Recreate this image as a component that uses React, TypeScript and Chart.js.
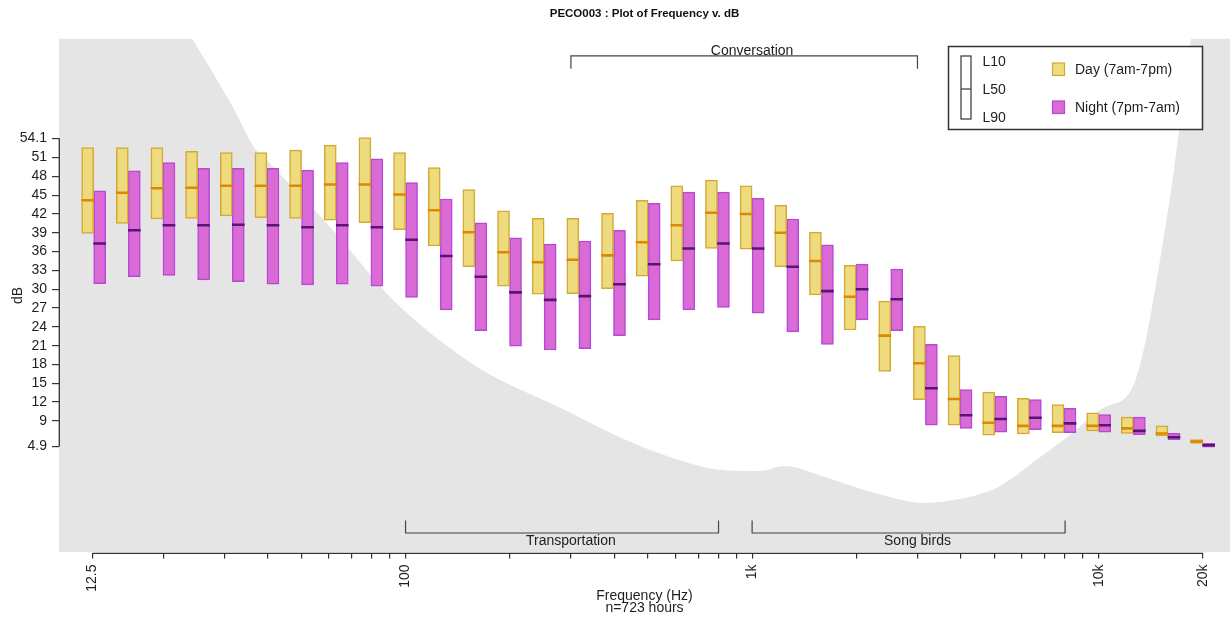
import React, { useEffect, useRef } from 'react';
import { Chart, registerables } from 'chart.js';

Chart.register(...registerables);

// ---------- data ----------
const bands = [12.5, 16, 20, 25, 31.5, 40, 50, 63, 80, 100, 125, 160, 200, 250, 315, 400, 500, 630, 800,
  1000, 1250, 1600, 2000, 2500, 3150, 4000, 5000, 6300, 8000, 10000, 12500, 16000, 20000];

const dayL10 = [52.6, 52.6, 52.6, 52.0, 51.8, 51.8, 52.2, 53.0, 54.2, 51.8, 49.4, 45.9, 42.5, 41.3, 41.3, 42.1, 44.2, 46.5, 47.4,
  46.5, 43.4, 39.1, 33.8, 28.1, 24.1, 19.4, 13.6, 12.6, 11.6, 10.3, 9.6, 8.2, 6.0];
const dayL50 = [44.2, 45.4, 46.1, 46.2, 46.5, 46.5, 46.5, 46.7, 46.7, 45.1, 42.6, 39.1, 35.9, 34.3, 34.7, 35.4, 37.5, 40.2, 42.2,
  42.0, 39.0, 34.5, 28.8, 22.6, 18.2, 12.5, 8.7, 8.2, 8.2, 8.2, 7.8, 7.0, 5.7];
const dayL90 = [38.9, 40.5, 41.2, 41.3, 41.7, 41.4, 41.3, 41.0, 40.6, 39.5, 36.9, 33.6, 30.5, 29.2, 29.3, 30.1, 32.1, 34.5, 36.5,
  36.4, 33.6, 29.1, 23.5, 16.9, 12.4, 8.3, 6.7, 6.9, 7.1, 7.4, 7.0, 6.6, 5.4];

const nightL10 = [45.7, 48.9, 50.2, 49.3, 49.3, 49.3, 49.0, 50.2, 50.8, 47.0, 44.4, 40.6, 38.2, 37.2, 37.7, 39.4, 43.7, 45.5, 45.5,
  44.5, 41.2, 37.1, 34.0, 33.2, 21.2, 14.0, 12.9, 12.4, 11.0, 10.0, 9.6, 7.0, 5.4];
const nightL50 = [37.3, 39.4, 40.2, 40.2, 40.3, 40.2, 39.9, 40.2, 39.9, 37.9, 35.3, 32.0, 29.5, 28.3, 28.9, 30.8, 34.0, 36.5, 37.3,
  36.5, 33.6, 29.7, 30.0, 28.4, 14.2, 9.9, 9.3, 9.5, 8.6, 8.3, 7.4, 6.4, 5.1];
const nightL90 = [30.9, 32.0, 32.2, 31.5, 31.2, 30.8, 30.7, 30.8, 30.5, 28.7, 26.7, 23.4, 20.9, 20.3, 20.5, 22.6, 25.1, 26.7, 27.1,
  26.2, 23.2, 21.2, 25.1, 23.4, 8.3, 7.8, 7.2, 7.6, 7.1, 7.2, 6.8, 6.0, 4.8];

// hearing threshold curve (area below is shaded)
const thresholdFreq = [10, 24.3, 32.1, 36.5, 39.7, 60.4, 92.1, 150, 187.7, 276.6, 393.4, 559.8, 796, 1055, 1237, 1610,
  2291, 3146, 4025, 5150, 6590, 8153, 10428, 12540, 15970, 17070, 18490, 25000];
const thresholdDb = [106, 69.9, 58.6, 52.7, 50.6, 40.0, 28.3, 18.7, 15.5, 11.2, 7.0, 3.5, 1.25, 1.0, 1.8, 0.1,
  -2.6, -4.1, -3.4, -1.5, 2.7, 6.5, 11.2, 14.4, 43.7, 55.4, 70.0, 110];

const xTickValues = [12.5, 20, 30, 40, 50, 60, 70, 80, 90, 100, 200, 300, 400, 500, 600, 700, 800, 900,
  1000, 2000, 3000, 4000, 5000, 6000, 7000, 8000, 9000, 10000, 20000];
const xTickLabelValues = [12.5, 100, 1000, 10000, 20000];
const xTickLabelTexts = ['12.5', '100', '1k', '10k', '20k'];

const yTickValues = [4.9, 9, 12, 15, 18, 21, 24, 27, 30, 33, 36, 39, 42, 45, 48, 51, 54.1];

const bracketLabels = ['Conversation', 'Transportation', 'Song birds'];
const bracketFrom = [300, 100, 1000];
const bracketTo = [3000, 800, 8000];
const bracketTextAt = [1000, 300, 3000];
const bracketSide = ['top', 'bottom', 'bottom'];

const legendBoxLabels = ['L10', 'L50', 'L90'];
const seriesNames = ['Day (7am-7pm)', 'Night (7pm-7am)'];

const titleText = 'PECO003 : Plot of Frequency v. dB';
const xTitle = ['Frequency (Hz)', 'n=723 hours'];
const yTitle = 'dB';

// ---------- styles ----------
const FONT = '"Liberation Sans", Arial, Helvetica, sans-serif';
const TEXT = '#1e1e1e';
const AXIS = '#333333';
const DAY_FILL = 'rgb(238,219,125)';
const DAY_EDGE = 'rgb(212,168,52)';
const DAY_MED = 'rgb(220,135,5)';
const NIGHT_FILL = 'rgb(218,106,214)';
const NIGHT_EDGE = 'rgb(182,72,214)';
const NIGHT_MED = 'rgb(88,22,112)';
const SHADE = 'rgb(229,229,229)';

// exact third-octave centre for a nominal band frequency
const bandX = (f: number) => Math.pow(10, Math.round(10 * Math.log10(f)) / 10);
const MED_HALF = 0.15;

const overlayPlugin = {
  id: 'overlay',
  afterDraw(chart: any) {
    const { ctx, chartArea, scales } = chart;
    const xs = scales.x;
    const ys = scales.y;
    ctx.save();

    // partial axis lines (R style)
    ctx.strokeStyle = AXIS;
    ctx.lineWidth = 1.3;
    ctx.beginPath();
    const ax = chartArea.left + 0.3;
    ctx.moveTo(ax, ys.getPixelForValue(yTickValues[0]));
    ctx.lineTo(ax, ys.getPixelForValue(yTickValues[yTickValues.length - 1]));
    const ay = chartArea.bottom + 0.8;
    ctx.moveTo(xs.getPixelForValue(xTickValues[0]), ay);
    ctx.lineTo(xs.getPixelForValue(xTickValues[xTickValues.length - 1]), ay);
    ctx.stroke();

    // brackets
    ctx.strokeStyle = '#444444';
    ctx.lineWidth = 1.2;
    ctx.fillStyle = TEXT;
    ctx.font = `14px ${FONT}`;
    ctx.textAlign = 'center';
    ctx.textBaseline = 'alphabetic';
    for (let i = 0; i < bracketLabels.length; i++) {
      const x1 = xs.getPixelForValue(bracketFrom[i]);
      const x2 = xs.getPixelForValue(bracketTo[i]);
      const xt = xs.getPixelForValue(bracketTextAt[i]);
      if (bracketSide[i] === 'top') {
        const ly = chartArea.top + 17.3;
        ctx.beginPath();
        ctx.moveTo(x1, ly + 13);
        ctx.lineTo(x1, ly);
        ctx.lineTo(x2, ly);
        ctx.lineTo(x2, ly + 13);
        ctx.stroke();
        ctx.fillText(bracketLabels[i], xt, ly - 0.5);
      } else {
        const ly = chartArea.bottom - 19.5;
        ctx.beginPath();
        ctx.moveTo(x1, ly - 12.5);
        ctx.lineTo(x1, ly);
        ctx.lineTo(x2, ly);
        ctx.lineTo(x2, ly - 12.5);
        ctx.stroke();
        ctx.fillText(bracketLabels[i], xt, ly + 11.5);
      }
    }

    // legend
    const lx = chartArea.right - 281.5;
    const ly = chartArea.top + 8;
    ctx.fillStyle = '#ffffff';
    ctx.fillRect(lx, ly, 254, 83);
    ctx.strokeStyle = '#333333';
    ctx.lineWidth = 1.5;
    ctx.strokeRect(lx, ly, 254, 83);

    // box glyph
    ctx.strokeStyle = '#444444';
    ctx.lineWidth = 1.3;
    ctx.strokeRect(lx + 12.5, ly + 9.5, 10, 63);
    ctx.beginPath();
    ctx.moveTo(lx + 12.5, ly + 42.5);
    ctx.lineTo(lx + 22.5, ly + 42.5);
    ctx.stroke();

    ctx.fillStyle = TEXT;
    ctx.font = `14px ${FONT}`;
    ctx.textAlign = 'left';
    ctx.textBaseline = 'middle';
    const glyphY = [ly + 15.5, ly + 43.3, ly + 71.3];
    legendBoxLabels.forEach((t, i) => ctx.fillText(t, lx + 34, glyphY[i]));

    const swFill = [DAY_FILL, NIGHT_FILL];
    const swEdge = [DAY_EDGE, NIGHT_EDGE];
    const swY = [ly + 16.5, ly + 54.5];
    for (let i = 0; i < 2; i++) {
      ctx.fillStyle = swFill[i];
      ctx.fillRect(lx + 104, swY[i], 12, 12.5);
      ctx.strokeStyle = swEdge[i];
      ctx.lineWidth = 1.2;
      ctx.strokeRect(lx + 104, swY[i], 12, 12.5);
      ctx.fillStyle = TEXT;
      ctx.fillText(seriesNames[i], lx + 126.5, swY[i] + 7);
    }
    ctx.restore();
  },
};

export default function App() {
  const ref = useRef<HTMLCanvasElement | null>(null);

  useEffect(() => {
    if (!ref.current) return;
    const barCommon = {
      type: 'bar' as const,
      barThickness: 12,
      borderSkipped: false,
      grouped: true,
    };
    const chart = new Chart(ref.current, {
      type: 'bar',
      data: {
        datasets: [
          {
            ...barCommon,
            label: 'Day median',
            stack: 'day',
            order: 0,
            backgroundColor: DAY_MED,
            borderWidth: 0,
            data: bands.map((f, i) => ({ x: bandX(f), y: [dayL50[i] - MED_HALF, dayL50[i] + MED_HALF] })),
          },
          {
            ...barCommon,
            label: 'Night median',
            stack: 'night',
            order: 0,
            backgroundColor: NIGHT_MED,
            borderWidth: 0,
            data: bands.map((f, i) => ({ x: bandX(f), y: [nightL50[i] - MED_HALF, nightL50[i] + MED_HALF] })),
          },
          {
            ...barCommon,
            label: seriesNames[0],
            stack: 'day',
            order: 1,
            backgroundColor: DAY_FILL,
            borderColor: DAY_EDGE,
            borderWidth: 1.5,
            data: bands.map((f, i) => ({ x: bandX(f), y: [dayL90[i], dayL10[i]] })),
          },
          {
            ...barCommon,
            label: seriesNames[1],
            stack: 'night',
            order: 1,
            backgroundColor: NIGHT_FILL,
            borderColor: NIGHT_EDGE,
            borderWidth: 1.5,
            data: bands.map((f, i) => ({ x: bandX(f), y: [nightL90[i], nightL10[i]] })),
          },
          {
            type: 'line' as const,
            label: 'threshold',
            order: 3,
            data: thresholdFreq.map((f, i) => ({ x: f, y: thresholdDb[i] })),
            fill: 'start',
            backgroundColor: SHADE,
            borderWidth: 0,
            borderColor: 'rgba(0,0,0,0)',
            pointRadius: 0,
            cubicInterpolationMode: 'monotone',
          },
        ] as any,
      },
      options: {
        responsive: false,
        animation: false,
        devicePixelRatio: 1,
        layout: { padding: 0 },
        plugins: {
          legend: { display: false },
          tooltip: { enabled: false },
          title: {
            display: true,
            text: titleText,
            fullSize: false,
            color: '#111111',
            font: { family: FONT, size: 11.5, weight: 'bold' },
            padding: { top: 7.2, bottom: 17.5 },
          },
        },
        scales: {
          x: {
            type: 'logarithmic',
            min: 10,
            max: 23930,
            bounds: 'data',
            offset: false,
            grid: {
              display: true,
              offset: false,
              drawOnChartArea: false,
              drawTicks: true,
              tickLength: 6,
              color: AXIS,
              lineWidth: 1.2,
            },
            border: { display: false },
            afterBuildTicks: (s: any) => {
              s.ticks = xTickValues.map((v) => ({ value: v }));
            },
            afterFit: (s: any) => {
              s.height = 65.5;
            },
            ticks: {
              autoSkip: false,
              minRotation: 90,
              maxRotation: 90,
              padding: 6,
              color: TEXT,
              font: { family: FONT, size: 14 },
              callback: (v: any) => {
                const k = xTickLabelValues.indexOf(Number(v));
                return k >= 0 ? xTickLabelTexts[k] : '';
              },
            },
            title: {
              display: true,
              text: xTitle,
              color: TEXT,
              font: { family: FONT, size: 14, lineHeight: 0.9 },
              padding: { top: 0, bottom: 3.1 },
            },
          },
          y: {
            type: 'linear',
            min: -12,
            max: 70,
            bounds: 'data',
            stacked: false,
            beginAtZero: false,
            grid: {
              display: true,
              drawOnChartArea: false,
              drawTicks: true,
              tickLength: 7,
              color: AXIS,
              lineWidth: 1.2,
            },
            border: { display: false },
            afterBuildTicks: (s: any) => {
              s.ticks = yTickValues.map((v) => ({ value: v }));
            },
            afterFit: (s: any) => {
              s.width = 59;
            },
            ticks: {
              autoSkip: false,
              padding: 5,
              color: TEXT,
              font: { family: FONT, size: 14 },
              callback: (v: any) => String(v),
            },
            title: {
              display: true,
              text: yTitle,
              color: TEXT,
              font: { family: FONT, size: 14 },
              padding: { top: 9.6, bottom: 0 },
            },
          },
        },
      } as any,
      plugins: [overlayPlugin],
    });
    return () => chart.destroy();
  }, []);

  return (
    <div style={{ position: 'absolute', left: 0, top: 0, width: 1230, height: 618, background: '#ffffff' }}>
      <canvas ref={ref} width={1230} height={618} style={{ display: 'block', width: 1230, height: 618 }} />
    </div>
  );
}
